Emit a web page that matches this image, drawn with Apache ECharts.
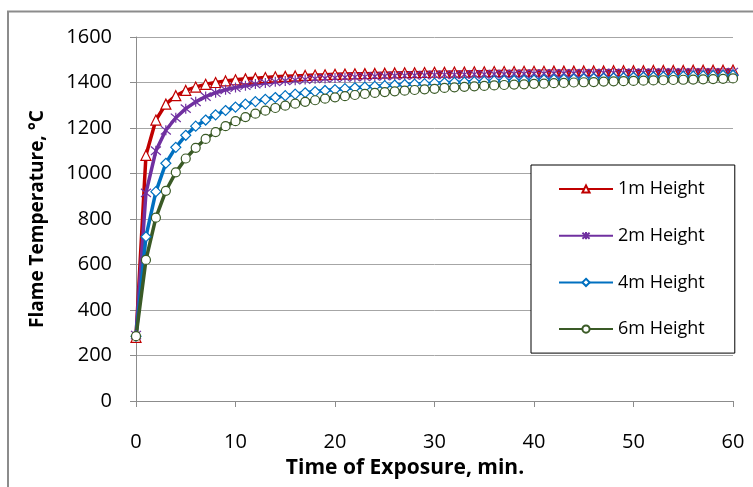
<!DOCTYPE html>
<html><head><meta charset="utf-8">
<script src="https://cdn.jsdelivr.net/npm/echarts@6/dist/echarts.min.js"></script>
<style>html,body{margin:0;padding:0;background:#fff}#c{width:753px;height:487px}</style>
</head><body><div id="c"></div>
<script>
var time = [0,1,2,3,4,5,6,7,8,9,10,11,12,13,14,15,16,17,18,19,20,21,22,23,24,25,26,27,28,29,30,31,32,33,34,35,36,37,38,39,40,41,42,43,44,45,46,47,48,49,50,51,52,53,54,55,56,57,58,59,60];
var h1m = [280,1080,1235,1305,1342,1365,1380,1392,1400,1407,1412,1416,1419,1422,1425,1427,1429,1431,1433,1434,1436,1437,1438,1439,1440,1441,1442,1443,1443,1444,1445,1445,1446,1446,1447,1447,1448,1448,1448,1449,1449,1449,1450,1450,1450,1451,1451,1451,1452,1452,1452,1452,1453,1453,1453,1453,1454,1454,1454,1454,1455];
var h2m = [290,915,1100,1190,1245,1285,1315,1338,1355,1368,1378,1386,1393,1398,1403,1407,1410,1413,1416,1418,1420,1422,1424,1425,1427,1428,1429,1430,1431,1432,1433,1434,1434,1435,1436,1436,1437,1437,1438,1438,1439,1439,1440,1440,1440,1441,1441,1442,1442,1442,1443,1443,1443,1444,1444,1444,1445,1445,1445,1445,1446];
var h4m = [285,722,920,1045,1115,1168,1208,1235,1258,1277,1292,1305,1316,1326,1334,1342,1349,1355,1360,1365,1369,1373,1377,1380,1383,1386,1389,1391,1393,1395,1397,1399,1401,1402,1404,1405,1407,1408,1409,1410,1411,1412,1413,1414,1415,1416,1417,1418,1419,1420,1422,1423,1424,1425,1426,1427,1428,1429,1430,1431,1432];
var h6m = [285,620,806,924,1005,1066,1113,1152,1182,1208,1230,1248,1263,1276,1288,1298,1307,1315,1322,1329,1335,1340,1345,1350,1354,1358,1361,1364,1367,1370,1372,1376,1379,1381,1383,1385,1387,1389,1391,1392,1394,1395,1397,1398,1400,1401,1402,1404,1405,1406,1407,1408,1409,1410,1411,1412,1413,1414,1415,1416,1418];
var seriesNames = ['1m Height','2m Height','4m Height','6m Height'];
var xTicks = [0,10,20,30,40,50,60];
var yTicks = [0,200,400,600,800,1000,1200,1400,1600];

var FONT = 'Open Sans';
function pairs(ys){ return time.map(function(t,i){ return [t, ys[i]]; }); }
var asterisk = 'path://M0,0L10,10M10,0L0,10M5,-1L5,11';
var styles = [
  {c:'#C00000', sym:'triangle', size:10},
  {c:'#7030A0', sym:asterisk, size:10},
  {c:'#0070C0', sym:'diamond', size:10},
  {c:'#3A5A26', sym:'circle', size:9}
];
var dataSets = [h1m,h2m,h4m,h6m];
var series = dataSets.map(function(d,i){
  var s = styles[i];
  return {
    name: seriesNames[i], type:'line', data: pairs(d),
    color: s.c,
    symbol: s.sym, symbolSize: s.size, showAllSymbol: true,
    lineStyle: {color: s.c, width: 3.5},
    itemStyle: {color: i===1 ? s.c : '#fff', borderColor: s.c, borderWidth: 1.2},
    emphasis: {disabled: true},
    animation: false
  };
});
var chart = echarts.init(document.getElementById('c'), null, {renderer:'canvas'});
chart.setOption({
  animation: false,
  backgroundColor: '#fff',
  grid: {left:136, right:20, top:37, bottom:86, containLabel:false},
  xAxis: {
    type:'value', min: xTicks[0], max: xTicks[xTicks.length-1], interval: 10,
    axisLine: {show:true, lineStyle:{color:'#8c8c8c', width:1}},
    axisTick: {show:true, length:6, lineStyle:{color:'#8c8c8c'}},
    splitLine: {show:false},
    axisLabel: {color:'#000', fontFamily:FONT, fontSize:20, margin:31}
  },
  yAxis: {
    type:'value', min: yTicks[0], max: yTicks[yTicks.length-1], interval: 200,
    name: 'Flame Temperature, °C', nameLocation:'middle', nameGap: 89,
    nameTextStyle: {color:'#000', fontFamily:FONT, fontSize:19, fontWeight:'bold'},
    axisLine: {show:true, lineStyle:{color:'#8c8c8c', width:1}},
    axisTick: {show:true, length:6, lineStyle:{color:'#8c8c8c'}},
    splitLine: {show:true, lineStyle:{color:'#a6a6a6', width:1}},
    axisLabel: {color:'#000', fontFamily:FONT, fontSize:20, margin:24, formatter: function(v){ return String(v); }}
  },
  legend: {
    orient:'vertical', left:531, top:165,
    padding:[15,30,15,27], itemGap:28.7, itemWidth:54, itemHeight:9,
    borderColor:'#000', borderWidth:1, backgroundColor:'#fff',
    textStyle:{color:'#000', fontFamily:FONT, fontSize:18},
    data: seriesNames
  },
  graphic: [
    {type:'rect', shape:{x:8, y:11.5, width:800, height:520}, style:{fill:'none', stroke:'#8c8c8c', lineWidth:2}, silent:true, z:-1},
    {type:'text', x:405, y:468, style:{text:'Time of Exposure, min.', fill:'#000', font:'bold 21px "Open Sans"', textAlign:'center', textVerticalAlign:'middle'}}
  ],
  series: series
});
</script></body></html>
